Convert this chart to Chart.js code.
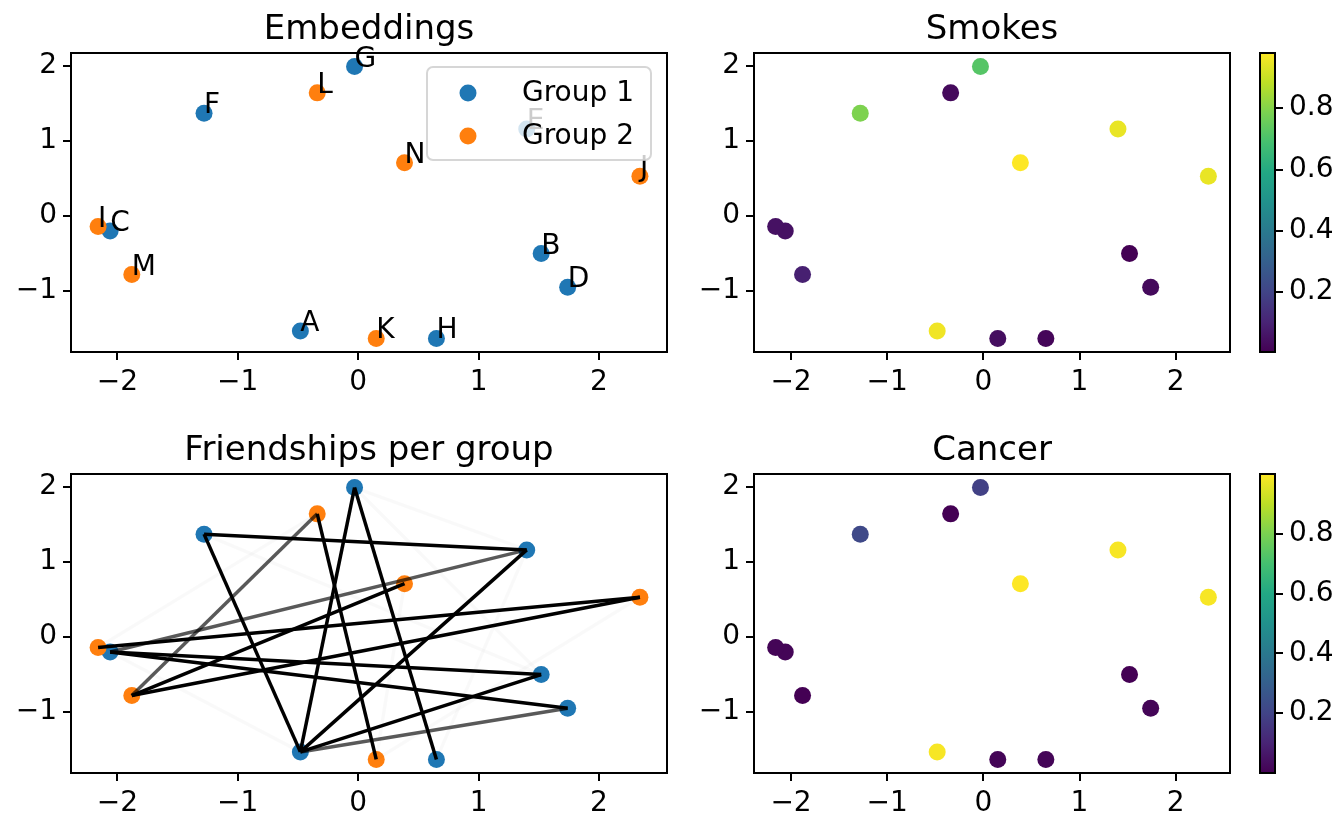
<!DOCTYPE html>
<html><head><meta charset="utf-8">
<script src="https://cdn.jsdelivr.net/npm/chart.js@4.4.1/dist/chart.umd.min.js"></script>
<style>
html,body{margin:0;padding:0;background:#fff;overflow:hidden;width:1337px;height:814px;}
#wrap{position:relative;width:1337px;height:814px;}
canvas{position:absolute;left:0;top:0;}
</style></head><body><div id="wrap">
<canvas id="cTL" width="1337" height="814"></canvas>
<canvas id="cTR" width="1337" height="814"></canvas>
<canvas id="cBL" width="1337" height="814"></canvas>
<canvas id="cBR" width="1337" height="814"></canvas>
<canvas id="cCB1" width="1337" height="814"></canvas>
<canvas id="cCB2" width="1337" height="814"></canvas>
</div>
<script>
// ---------------- data ----------------
const nodeNames = ['A','B','C','D','E','F','G','H','I','J','K','L','M','N'];
const nodeX = [-0.48, 1.52, -2.06, 1.74, 1.40, -1.28, -0.03, 0.65, -2.16, 2.34, 0.15, -0.34, -1.88, 0.385];
const nodeY = [-1.53, -0.50, -0.20, -0.95, 1.16, 1.37, 1.99, -1.63, -0.14, 0.53, -1.63, 1.64, -0.78, 0.71];
const nodeGroup = [1,1,1,1,1,1,1,1,2,2,2,2,2,2];
const groupLabels = ['Group 1', 'Group 2'];
const smokes = [0.96, 0.005, 0.05, 0.03, 0.95, 0.79, 0.72, 0.02, 0.05, 0.95, 0.04, 0.03, 0.09, 0.98];
const cancer = [0.99, 0.0, 0.01, 0.01, 0.99, 0.22, 0.19, 0.01, 0.01, 0.99, 0.01, 0.0, 0.0, 1.0];
const edgeFrom   = [5, 5, 6, 6, 4, 2, 2, 0, 11, 13, 12, 8, 11, 2, 0, 6, 2, 5, 7, 10, 9, 6, 8];
const edgeTo     = [4, 0, 0, 7, 0, 1, 3, 1, 10, 12, 9, 9, 12, 4, 3, 4, 0, 1, 4, 13, 10, 1, 11];
const edgeWeight = [1, 1, 1, 1, 1, 1, 1, 1, 1, 1, 1, 1, 0.65, 0.65, 0.65, 0.025, 0.025, 0.025, 0.025, 0.025, 0.025, 0.025, 0.025];
const xTicks = [-2, -1, 0, 1, 2];
const yTicks = [-1, 0, 1, 2];
const cbarTicks = [0.2, 0.4, 0.6, 0.8];
const titles = ['Embeddings', 'Smokes', 'Friendships per group', 'Cancer'];

// ---------------- style ----------------
const W = 1337, H = 814;
const C1 = '#1f77b4', C2 = '#ff7f0e';
const viridisStops = ['#440154','#482475','#414487','#355f8d','#2a788e','#21918c','#22a884','#44bf70','#7ad151','#bddf26','#fde725'];
function hex2rgb(h){return [parseInt(h.slice(1,3),16),parseInt(h.slice(3,5),16),parseInt(h.slice(5,7),16)];}
function viridis(t){
  t = Math.max(0, Math.min(1, t));
  const p = t * (viridisStops.length - 1), i = Math.min(Math.floor(p), viridisStops.length - 2), f = p - i;
  const a = hex2rgb(viridisStops[i]), b = hex2rgb(viridisStops[i+1]);
  return 'rgb(' + a.map((v,k)=>Math.round(v + (b[k]-v)*f)).join(',') + ')';
}
Chart.defaults.font.family = '"DejaVu Sans", sans-serif';
Chart.defaults.color = '#000';
const TICK_FONT = 28, TITLE_FONT = 34, Y_AXIS_W = 71, X_AXIS_H = 40, TITLE_H = 53, TITLE_PAD_TOP = 10;

const xs = nodeX.slice(), ys = nodeY.slice();
const xR = Math.max(...xs) - Math.min(...xs), yR = Math.max(...ys) - Math.min(...ys);
const xMin = Math.min(...xs) - 0.05*xR, xMax = Math.max(...xs) + 0.05*xR;
const yMin = Math.min(...ys) - 0.05*yR, yMax = Math.max(...ys) + 0.05*yR;

const areas = {
  TL: {l: 71, t: 53, r: 667, b: 352},
  TR: {l: 754, t: 53, r: 1230, b: 352},
  BL: {l: 71, t: 474, r: 667, b: 773},
  BR: {l: 754, t: 474, r: 1230, b: 773},
  CB1: {l: 1260, t: 53, r: 1275, b: 352},
  CB2: {l: 1260, t: 474, r: 1275, b: 773}
};
const fmt = v => (v < 0 ? '\u2212' + Math.abs(v) : String(v));

const framePlugin = {
  id: 'frame',
  afterDatasetsDraw(chart) {
    const {ctx, chartArea: a} = chart;
    ctx.save(); ctx.strokeStyle = '#000'; ctx.lineWidth = 2;
    ctx.strokeRect(a.left, a.top, a.right - a.left, a.bottom - a.top);
    ctx.restore();
  }
};

function axisOpts(kind, ticksArr, min, max, position) {
  const o = {
    type: 'linear', position, min, max,
    afterBuildTicks(s) { s.ticks = ticksArr.map(v => ({value: v})); },
    ticks: {callback: fmt, color: '#000', font: {size: TICK_FONT}, padding: 6, maxRotation: 0, autoSkip: false},
    grid: {display: true, drawOnChartArea: false, drawTicks: true, tickLength: 8, tickWidth: 2, tickColor: '#000', lineWidth: 2},
    border: {display: false}
  };
  if (kind === 'x') o.afterFit = s => { s.height = X_AXIS_H; };
  else o.afterFit = s => { s.width = Y_AXIS_W; };
  return o;
}

function scatterChart(id, area, title, datasets, extraPlugins) {
  return new Chart(document.getElementById(id), {
    type: 'scatter',
    data: {datasets},
    options: {
      responsive: false, animation: false, devicePixelRatio: 1, events: [],
      layout: {padding: {left: area.l - Y_AXIS_W, top: area.t - TITLE_H, right: W - area.r, bottom: H - area.b - X_AXIS_H}},
      scales: {x: axisOpts('x', xTicks, xMin, xMax, 'bottom'), y: axisOpts('y', yTicks, yMin, yMax, 'left')},
      plugins: {
        legend: {display: false}, tooltip: {enabled: false},
        title: {display: true, text: title, fullSize: false, color: '#000',
                font: {size: TITLE_FONT, weight: 'normal', lineHeight: 1.2},
                padding: {top: TITLE_PAD_TOP, bottom: TITLE_H - TITLE_PAD_TOP - TITLE_FONT*1.2}}
      }
    },
    plugins: [framePlugin].concat(extraPlugins || [])
  });
}

function groupData(g) {
  const d = [];
  nodeX.forEach((x, i) => { if (nodeGroup[i] === g) d.push({x, y: nodeY[i]}); });
  return d;
}
function groupDataset(g, order) {
  return {label: groupLabels[g-1], data: groupData(g), backgroundColor: g === 1 ? C1 : C2,
          pointRadius: 8.5, pointBorderWidth: 0, order};
}

// ---- Embeddings ----
const labelPlugin = {
  id: 'nodeLabels',
  afterDatasetsDraw(chart) {
    const {ctx} = chart, sx = chart.scales.x, sy = chart.scales.y;
    ctx.save(); ctx.fillStyle = '#000'; ctx.font = TICK_FONT + 'px "DejaVu Sans"';
    ctx.textAlign = 'left'; ctx.textBaseline = 'alphabetic';
    nodeNames.forEach((n, i) => ctx.fillText(n, sx.getPixelForValue(nodeX[i]), sy.getPixelForValue(nodeY[i])));
    ctx.restore();
  }
};
const boxLegendPlugin = {
  id: 'boxLegend',
  afterDraw(chart) {
    const {ctx, chartArea: a} = chart;
    const bw = 224, bh = 93, bx = a.right - 16 - bw, by = a.top + 14;
    ctx.save();
    ctx.beginPath(); ctx.roundRect(bx, by, bw, bh, 6);
    ctx.fillStyle = 'rgba(255,255,255,0.8)'; ctx.fill();
    ctx.strokeStyle = 'rgba(204,204,204,0.8)'; ctx.lineWidth = 2; ctx.stroke();
    chart.data.datasets.forEach((ds, i) => {
      const cy = by + 26 + i * 43;
      ctx.beginPath(); ctx.arc(bx + 41, cy, 8.5, 0, Math.PI * 2); ctx.fillStyle = ds.backgroundColor; ctx.fill();
      ctx.fillStyle = '#000'; ctx.font = TICK_FONT + 'px "DejaVu Sans"'; ctx.textAlign = 'left'; ctx.textBaseline = 'middle';
      ctx.fillText(ds.label, bx + 95, cy + 1);
    });
    ctx.restore();
  }
};
scatterChart('cTL', areas.TL, titles[0], [groupDataset(1, 2), groupDataset(2, 1)], [labelPlugin, boxLegendPlugin]);

// ---- Friendships ----
const edgeSets = edgeFrom.map((f, k) => ({
  data: [{x: nodeX[f], y: nodeY[f]}, {x: nodeX[edgeTo[k]], y: nodeY[edgeTo[k]]}],
  showLine: true, borderColor: 'rgba(0,0,0,' + edgeWeight[k] + ')', borderWidth: 3.5,
  pointRadius: 0, order: 0
}));
scatterChart('cBL', areas.BL, titles[2], [groupDataset(1, 2), groupDataset(2, 1)].concat(edgeSets));

// ---- Colour scatter + colorbars ----
function colourChart(id, area, title, vals) {
  const lo = Math.min(...vals), hi = Math.max(...vals);
  scatterChart(id, area, title, [{
    data: nodeX.map((x, i) => ({x, y: nodeY[i]})),
    backgroundColor: vals.map(v => viridis((v - lo) / (hi - lo))),
    pointRadius: 8.5, pointBorderWidth: 0
  }]);
}
function colorbar(id, area, vals) {
  const lo = Math.min(...vals), hi = Math.max(...vals);
  new Chart(document.getElementById(id), {
    type: 'bar',
    data: {labels: [''], datasets: [{
      data: [[lo, hi]], borderWidth: 0, barPercentage: 1, categoryPercentage: 1,
      backgroundColor(ctx) {
        const a = ctx.chart.chartArea; if (!a) return '#000';
        const g = ctx.chart.ctx.createLinearGradient(0, a.bottom, 0, a.top);
        viridisStops.forEach((c, i) => g.addColorStop(i / (viridisStops.length - 1), c));
        return g;
      }
    }]},
    options: {
      responsive: false, animation: false, devicePixelRatio: 1, events: [],
      layout: {padding: {left: area.l, top: area.t, right: 0, bottom: H - area.b}},
      scales: {
        x: {display: false},
        y: {type: 'linear', position: 'right', min: lo, max: hi,
            afterFit(s) { s.width = W - area.r; },
            afterBuildTicks(s) { s.ticks = cbarTicks.map(v => ({value: v})); },
            ticks: {color: '#000', font: {size: TICK_FONT}, padding: 6, callback: v => v.toFixed(1)},
            grid: {display: true, drawOnChartArea: false, drawTicks: true, tickLength: 8, tickWidth: 2, tickColor: '#000', lineWidth: 2},
            border: {display: false}}
      },
      plugins: {legend: {display: false}, tooltip: {enabled: false}, title: {display: false}}
    },
    plugins: [framePlugin]
  });
}
colourChart('cTR', areas.TR, titles[1], smokes);
colourChart('cBR', areas.BR, titles[3], cancer);
colorbar('cCB1', areas.CB1, smokes);
colorbar('cCB2', areas.CB2, cancer);
</script></body></html>
